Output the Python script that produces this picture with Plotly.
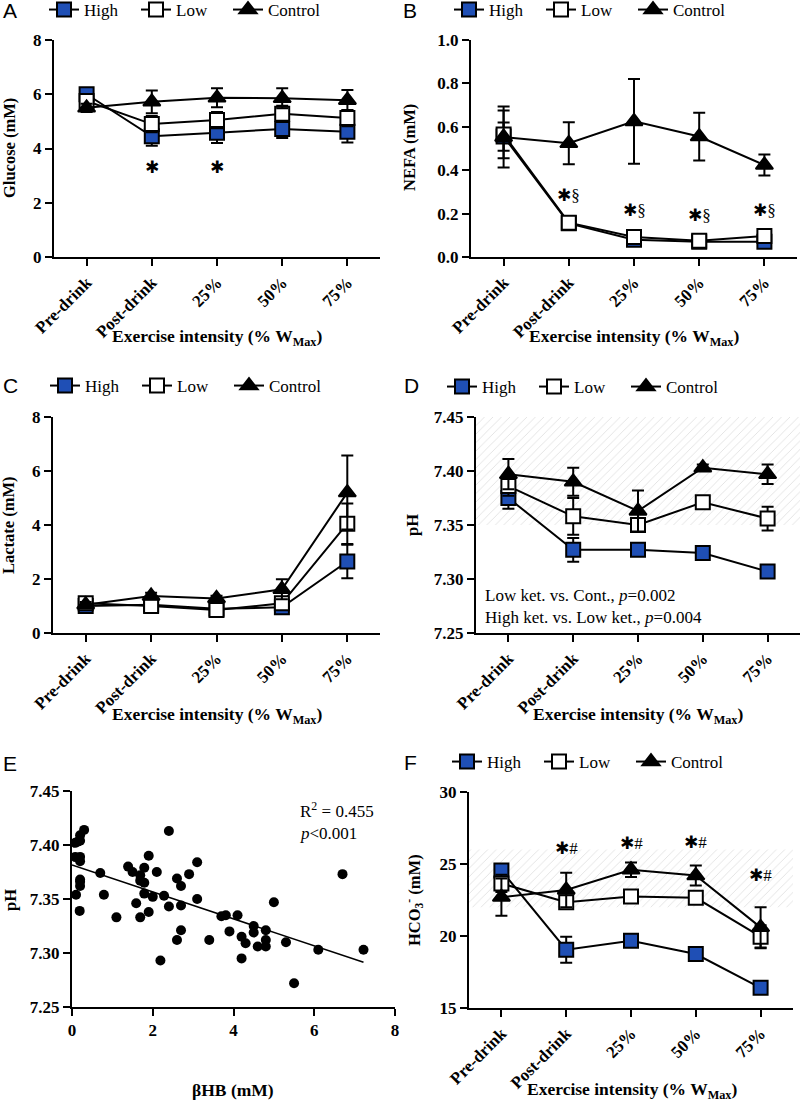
import numpy as np
import plotly.graph_objects as go

# ---------------- data ----------------
categories = ["Pre-drink", "Post-drink", "25%", "50%", "75%"]
series_names = ["High", "Low", "Control"]

glucose_high = [6.0, 4.45, 4.58, 4.72, 4.62]
glucose_high_err = [0.15, 0.35, 0.38, 0.33, 0.40]
glucose_low = [5.75, 4.90, 5.05, 5.28, 5.12]
glucose_low_err = [0.20, 0.30, 0.30, 0.30, 0.30]
glucose_ctrl = [5.50, 5.72, 5.87, 5.85, 5.78]
glucose_ctrl_err = [0.15, 0.42, 0.35, 0.37, 0.38]

nefa_high = [0.555, 0.155, 0.080, 0.070, 0.070]
nefa_high_err = [0.065, 0.020, 0.010, 0.010, 0.010]
nefa_low = [0.565, 0.158, 0.092, 0.075, 0.097]
nefa_low_err = [0.110, 0.015, 0.015, 0.010, 0.015]
nefa_ctrl = [0.553, 0.524, 0.625, 0.555, 0.424]
nefa_ctrl_err = [0.140, 0.097, 0.195, 0.110, 0.048]

lactate_high = [1.00, 1.05, 0.90, 0.95, 2.65]
lactate_high_err = [0.10, 0.10, 0.10, 0.10, 0.62]
lactate_low = [1.10, 1.00, 0.85, 1.10, 4.05]
lactate_low_err = [0.15, 0.10, 0.10, 0.20, 0.75]
lactate_ctrl = [1.05, 1.37, 1.28, 1.62, 5.20]
lactate_ctrl_err = [0.10, 0.12, 0.10, 0.37, 1.37]

ph_high = [7.375, 7.327, 7.327, 7.324, 7.307]
ph_high_err = [0.010, 0.011, 0.005, 0.004, 0.005]
ph_low = [7.386, 7.358, 7.350, 7.371, 7.356]
ph_low_err = [0.009, 0.017, 0.006, 0.004, 0.011]
ph_ctrl = [7.397, 7.390, 7.363, 7.403, 7.397]
ph_ctrl_err = [0.014, 0.013, 0.019, 0.003, 0.009]
ph_normal_range = [7.35, 7.45]

hco3_high = [24.55, 19.05, 19.67, 18.75, 16.40]
hco3_high_err = [0.30, 0.90, 0.30, 0.30, 0.30]
hco3_low = [23.65, 22.35, 22.75, 22.65, 19.95]
hco3_low_err = [0.60, 0.30, 0.30, 0.30, 0.80]
hco3_ctrl = [22.70, 23.20, 24.60, 24.20, 20.60]
hco3_ctrl_err = [1.30, 1.20, 0.50, 0.70, 1.40]
hco3_normal_range = [22, 26]

glucose_sig_idx = [1, 2]
glucose_sig_y = [3.3, 3.3]
nefa_sig_idx = [1, 2, 3, 4]
nefa_sig_y = [0.285, 0.218, 0.195, 0.218]
hco3_sig_idx = [1, 2, 3, 4]
hco3_sig_y = [26.1, 26.45, 26.55, 24.25]

bhb = [0.14, 0.08, 0.20, 0.30, 0.20, 0.08, 0.20, 0.20, 0.20, 0.20, 0.20, 0.10, 0.19,
       0.70, 0.79, 1.10, 1.39, 1.50, 1.69, 1.69, 1.79, 1.79, 1.79, 1.59, 1.69, 1.90,
       1.90, 2.00, 2.10, 2.19, 2.28, 2.40, 2.40, 2.60, 2.60, 2.70, 2.70, 2.70, 2.90,
       3.10, 3.10, 3.40, 3.70, 3.81, 3.90, 4.10, 4.20, 4.20, 4.30, 4.50, 4.50, 4.60,
       4.80, 4.80, 4.80, 5.00, 5.30, 5.50, 6.10, 6.70, 7.22]
ph_scatter = [7.403, 7.402, 7.409, 7.414, 7.404, 7.389, 7.389, 7.385, 7.368, 7.366, 7.362, 7.354, 7.339,
              7.374, 7.354, 7.333, 7.380, 7.375, 7.372, 7.367, 7.379, 7.365, 7.355, 7.346, 7.333, 7.390,
              7.338, 7.352, 7.375, 7.293, 7.353, 7.413, 7.343, 7.369, 7.312, 7.362, 7.344, 7.321, 7.373,
              7.384, 7.350, 7.312, 7.334, 7.335, 7.320, 7.335, 7.315, 7.295, 7.309, 7.325, 7.319, 7.306,
              7.321, 7.312, 7.306, 7.347, 7.310, 7.272, 7.303, 7.373, 7.303]

# ---------------- style ----------------
W, H = 800, 1102
SERIF = "Liberation Serif"
SANS = "Liberation Sans"
BLUE = "#1f4fb5"


def fx(p):
    return p / W


def fy(p):
    return 1 - p / H


fig = go.Figure()
xidx = list(range(len(categories)))

series_style = {
    "High": dict(symbol="square", color=BLUE, size=14),
    "Low": dict(symbol="square", color="white", size=14),
    "Control": dict(symbol="triangle-up", color="black", size=15),
}


def add_line_panel(n, legend_name, series, band=None):
    xa = "x" if n == 1 else f"x{n}"
    ya = "y" if n == 1 else f"y{n}"
    if band is not None:
        bx = [-0.5, 4.5, 4.5, -0.5, -0.5]
        by = [band[0], band[0], band[1], band[1], band[0]]
        fig.add_trace(go.Scatter(
            x=bx, y=by, xaxis=xa, yaxis=ya, mode="lines", fill="toself",
            line=dict(width=0), fillcolor="rgba(0,0,0,0)",
            fillpattern=dict(shape="/", fgcolor="#c4c4c4", bgcolor="white", size=6, solidity=0.15),
            showlegend=False, hoverinfo="skip"))
    for name, vals, errs in series:
        st = series_style[name]
        fig.add_trace(go.Scatter(
            x=xidx, y=vals, xaxis=xa, yaxis=ya, name=name, legend=legend_name,
            mode="lines+markers",
            line=dict(color="black", width=2),
            marker=dict(symbol=st["symbol"], color=st["color"], size=st["size"],
                        line=dict(color="black", width=2)),
            error_y=dict(type="data", array=errs, color="black", thickness=2, width=6),
        ))


add_line_panel(1, "legend", [("High", glucose_high, glucose_high_err),
                             ("Low", glucose_low, glucose_low_err),
                             ("Control", glucose_ctrl, glucose_ctrl_err)])
add_line_panel(2, "legend2", [("High", nefa_high, nefa_high_err),
                              ("Low", nefa_low, nefa_low_err),
                              ("Control", nefa_ctrl, nefa_ctrl_err)])
add_line_panel(3, "legend3", [("High", lactate_high, lactate_high_err),
                              ("Low", lactate_low, lactate_low_err),
                              ("Control", lactate_ctrl, lactate_ctrl_err)])
add_line_panel(4, "legend4", [("High", ph_high, ph_high_err),
                              ("Low", ph_low, ph_low_err),
                              ("Control", ph_ctrl, ph_ctrl_err)], band=ph_normal_range)
add_line_panel(6, "legend5", [("High", hco3_high, hco3_high_err),
                              ("Low", hco3_low, hco3_low_err),
                              ("Control", hco3_ctrl, hco3_ctrl_err)], band=hco3_normal_range)

# Panel E scatter + regression
fig.add_trace(go.Scatter(x=bhb, y=ph_scatter, xaxis="x5", yaxis="y5", mode="markers",
                         marker=dict(color="black", size=10), showlegend=False))
slope, intercept = np.polyfit(bhb, ph_scatter, 1)
fit_x = np.array([0.0, max(bhb)])
fig.add_trace(go.Scatter(x=fit_x, y=intercept + slope * fit_x, xaxis="x5", yaxis="y5",
                         mode="lines", line=dict(color="black", width=1.5), showlegend=False))

# ---------------- axes ----------------
tickfont = dict(family=SERIF, size=17, color="black", weight="bold")
common = dict(showline=True, linecolor="black", linewidth=2, ticks="outside", ticklen=7,
              tickwidth=2, tickcolor="black", showgrid=False, zeroline=False,
              tickfont=tickfont, automargin=False)

domains = {
    1: ([54, 380], [40, 257]),
    2: ([471, 797], [40, 257]),
    3: ([53, 380], [417, 633]),
    4: ([476, 800], [417, 633]),
    5: ([72, 395], [791, 1007]),
    6: ([469, 793], [792, 1008]),
}
yranges = {1: ([0, 8], 2, None), 2: ([0, 1.0], 0.2, ".1f"), 3: ([0, 8], 2, None),
           4: ([7.25, 7.45], 0.05, ".2f"), 5: ([7.25, 7.45], 0.05, ".2f"), 6: ([15, 30], 5, None)}

layout = dict(width=W, height=H, margin=dict(l=0, r=0, t=0, b=0, autoexpand=False),
              plot_bgcolor="rgba(0,0,0,0)", paper_bgcolor="white", hovermode=False)
for n, (dx, dy) in domains.items():
    xk = "xaxis" if n == 1 else f"xaxis{n}"
    yk = "yaxis" if n == 1 else f"yaxis{n}"
    xa = "x" if n == 1 else f"x{n}"
    ya = "y" if n == 1 else f"y{n}"
    xd = [fx(dx[0]), fx(dx[1])]
    yd = [fy(dy[1]), fy(dy[0])]
    if n == 5:
        layout[xk] = dict(common, domain=xd, anchor=ya, range=[0, 8], tickvals=[0, 2, 4, 6, 8])
    else:
        layout[xk] = dict(common, domain=xd, anchor=ya, range=[-0.5, 4.5], tickvals=xidx,
                          ticktext=categories, tickangle=-45)
    rng, dt, fmt = yranges[n]
    yax = dict(common, domain=yd, anchor=xa, range=rng, dtick=dt, tick0=rng[0])
    if fmt:
        yax["tickformat"] = fmt
    layout[yk] = yax

# legends
legend_pos = {"legend": (44, 10), "legend2": (449, 10), "legend3": (45, 386),
              "legend4": (442, 387), "legend5": (447, 762)}
for key, (lx, ly) in legend_pos.items():
    layout[key] = dict(orientation="h", x=fx(lx), y=fy(ly), xanchor="left", yanchor="middle",
                       font=dict(family=SERIF, size=17, color="black"),
                       bgcolor="rgba(0,0,0,0)", entrywidth=47, entrywidthmode="pixels",
                       itemclick=False, itemdoubleclick=False)

fig.update_layout(**layout)

# ---------------- annotations ----------------
ann = []


def txt(x, y, text, size=17, family=SERIF, xanchor="center", angle=0, bold=False):
    ann.append(dict(x=fx(x), y=fy(y), xref="paper", yref="paper", text=text, showarrow=False,
                    xanchor=xanchor, yanchor="middle", textangle=angle,
                    font=dict(family=family, size=size, color="black",
                              weight="bold" if bold else "normal")))


for letter, (lx, ly) in {"A": (1, 10), "B": (401, 10), "C": (1, 386), "D": (402, 386),
                         "E": (1, 763), "F": (402, 762)}.items():
    txt(lx, ly, letter, size=21, family=SANS, xanchor="left")

xt = "Exercise intensity (% W<sub>Max</sub>)"
for cx, cy in [(217, 338), (634, 338), (217, 715), (638, 715), (632, 1090)]:
    txt(cx, cy, xt, size=17.5, bold=True)
txt(233, 1090, "βHB (mM)", size=17.5, bold=True)

for cx, cy, t in [(9, 148, "Glucose (mM)"), (410, 147, "NEFA (mM)"), (8, 525, "Lactate (mM)"),
                  (412, 525, "pH"), (10, 900, "pH"), (414, 900, "HCO<sub>3</sub><sup>-</sup> (mM)")]:
    txt(cx, cy, t, size=16.5, bold=True, angle=-90)

txt(483, 595, "Low ket. vs. Cont., <i>p</i>=0.002", xanchor="left")
txt(483, 617, "High ket. vs. Low ket., <i>p</i>=0.004", xanchor="left")
txt(298, 810, "R<sup>2</sup> = 0.455", xanchor="left")
txt(298, 833, "<i>p</i>&lt;0.001", xanchor="left")

STAR = "<span style='font-family:DejaVu Sans'>✱</span>"


def sig(n, idxs, ys, suffix):
    xa = "x" if n == 1 else f"x{n}"
    ya = "y" if n == 1 else f"y{n}"
    for i, yv in zip(idxs, ys):
        ann.append(dict(x=i, y=yv, xref=xa, yref=ya, text=STAR + suffix, showarrow=False,
                        xanchor="center", yanchor="middle",
                        font=dict(family=SERIF, size=17, color="black")))


sig(1, glucose_sig_idx, glucose_sig_y, "")
sig(2, nefa_sig_idx, nefa_sig_y, "§")
sig(6, hco3_sig_idx, hco3_sig_y, "#")

fig.update_layout(annotations=ann)
fig.write_html("out.html", config={"displayModeBar": False},
               post_script="document.body.style.margin='0';document.body.style.padding='0';")
